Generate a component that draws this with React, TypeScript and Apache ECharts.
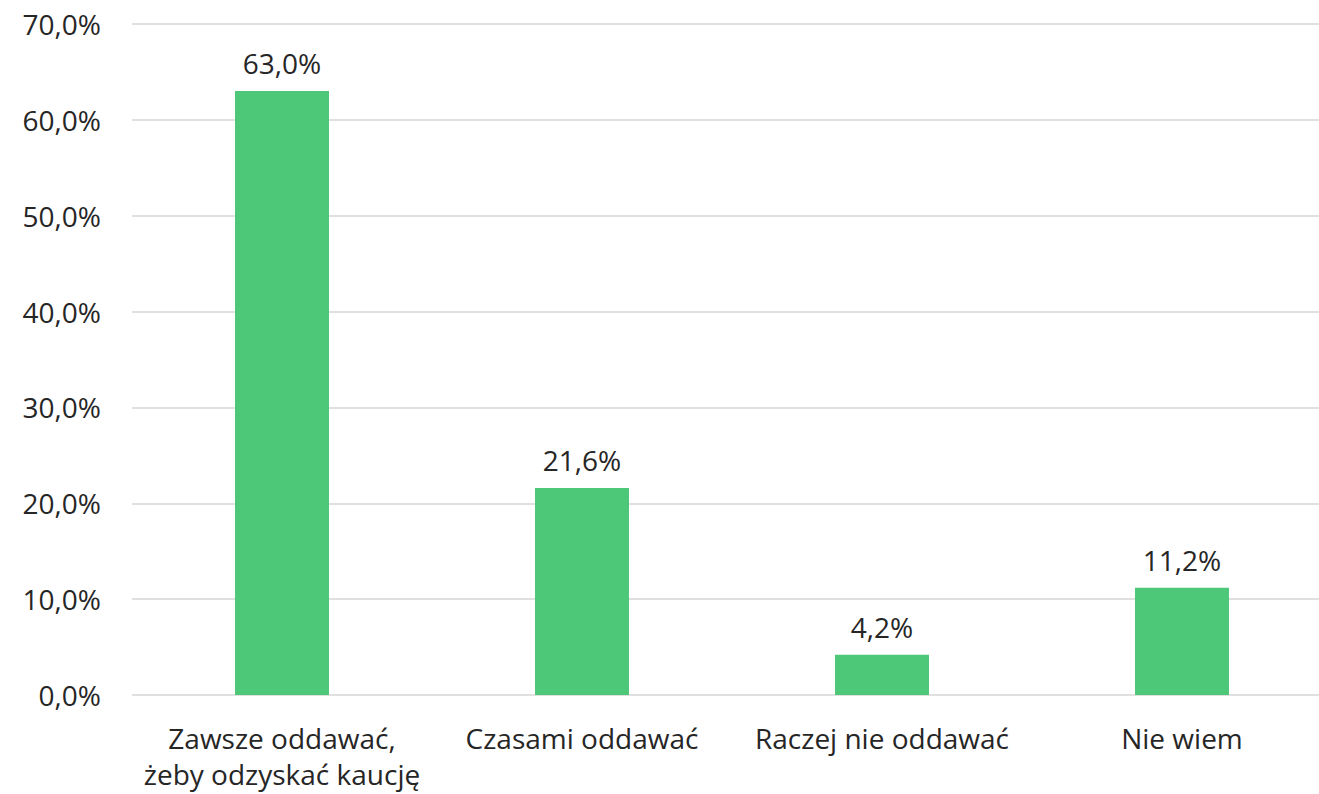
import React, { useEffect, useRef } from "react";
import * as echarts from "echarts";

const categories = ["Zawsze oddawać,\nżeby odzyskać kaucję", "Czasami oddawać", "Raczej nie oddawać", "Nie wiem"];
const values = [63.0, 21.6, 4.2, 11.2];
const yMin = 0;
const yMax = 70;
const yInterval = 10;

const FONT = "Open Sans";
const TEXT = "#262626";

export default function App() {
  const ref = useRef<HTMLDivElement>(null);
  useEffect(() => {
    if (!ref.current) return;
    const chart = echarts.init(ref.current, undefined, { renderer: "svg" });
    chart.setOption({
      animation: false,
      textStyle: { fontFamily: FONT },
      grid: { left: 132, right: 8, top: 24, bottom: 99, containLabel: false },
      xAxis: {
        type: "category",
        data: categories,
        axisLine: { show: false },
        axisTick: { show: false },
        axisLabel: { color: TEXT, fontSize: 28, fontFamily: FONT, margin: 25, lineHeight: 36, interval: 0 },
      },
      yAxis: {
        type: "value",
        min: yMin,
        max: yMax,
        interval: yInterval,
        axisLine: { show: false },
        axisTick: { show: false },
        splitLine: { lineStyle: { color: "#e0e0e0", width: 2 } },
        axisLabel: {
          color: TEXT,
          fontSize: 28,
          fontFamily: FONT,
          margin: 31,
          formatter: (v: number) => v.toFixed(1).replace(".", ",") + "%",
        },
      },
      series: [
        {
          type: "bar",
          data: values,
          barWidth: 94,
          itemStyle: { color: "#4dc878" },
          label: {
            show: true,
            position: "top",
            distance: 14,
            color: TEXT,
            fontSize: 28,
            fontFamily: FONT,
            formatter: (p: any) => p.value.toFixed(1).replace(".", ",") + "%",
          },
        },
      ],
    });
    return () => chart.dispose();
  }, []);
  return (
    <div style={{ position: "fixed", left: 0, top: 0, width: 1319, height: 794, overflow: "hidden", background: "#fff" }}>
      <div ref={ref} style={{ width: 1340, height: 794 }} />
    </div>
  );
}
